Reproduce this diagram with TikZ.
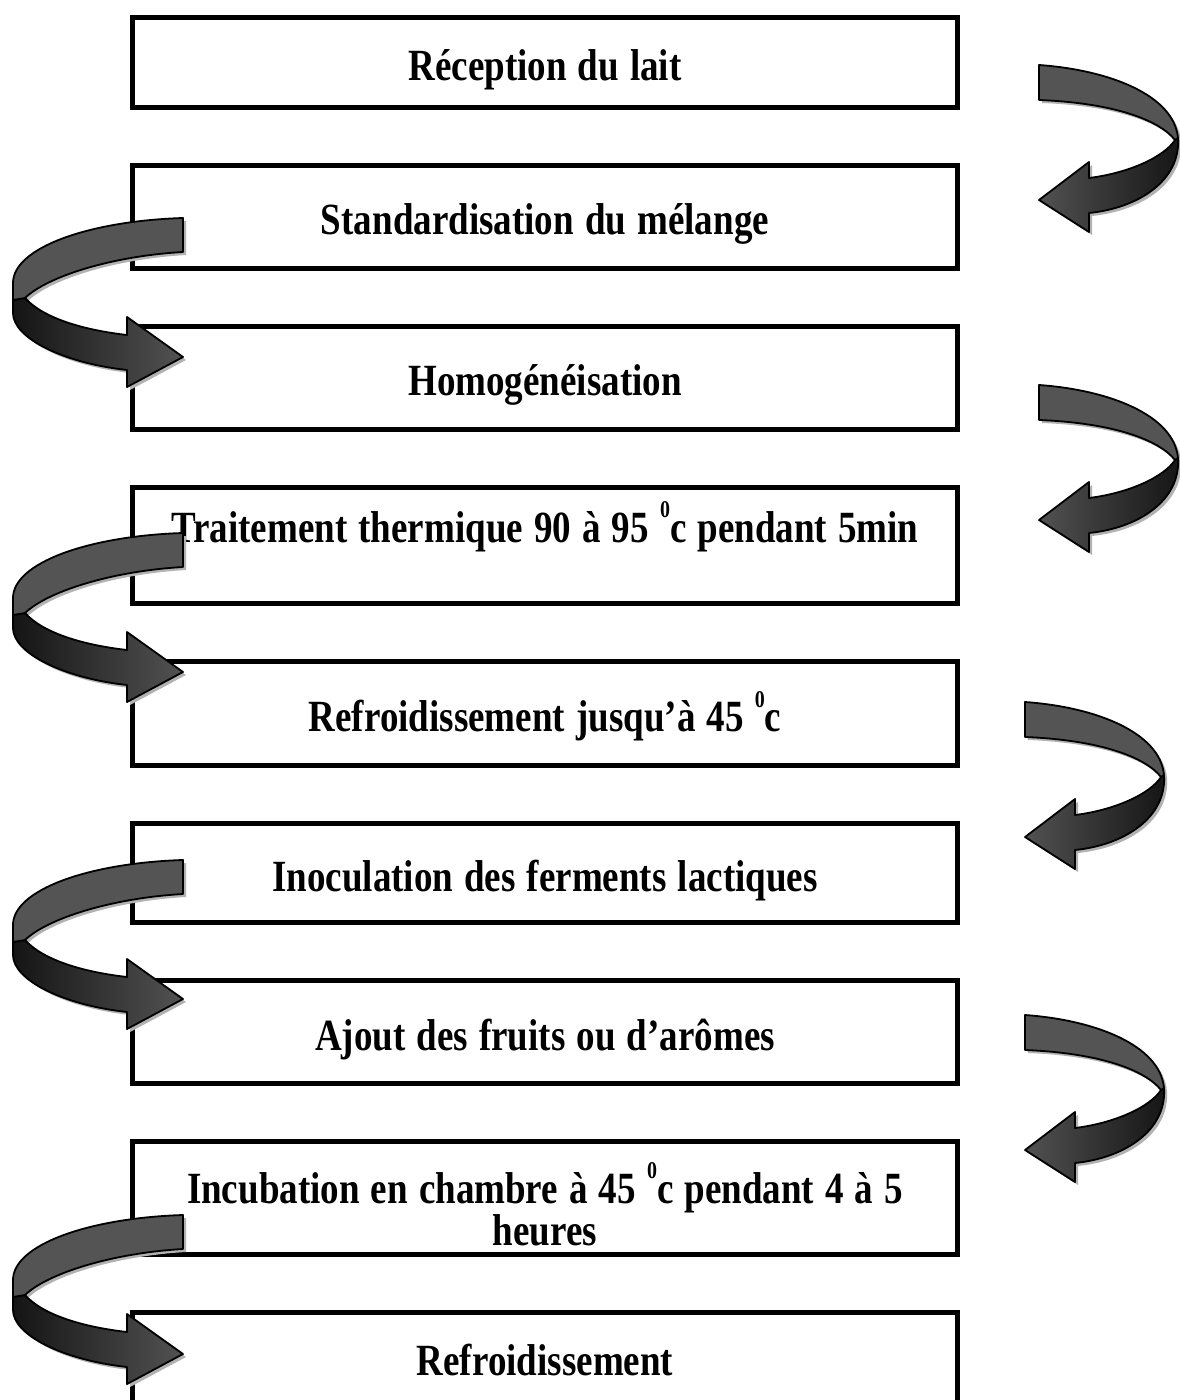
\documentclass[tikz,border=0pt]{standalone}
\usepackage{fontspec}
\setmainfont{Liberation Serif}[FakeStretch=0.83, WordSpace=1.2]
\usepackage{tikz}
\usetikzlibrary{positioning}
\newcommand{\degsup}{\raisebox{0.54em}{\fontsize{12}{12}\selectfont 0}}

\begin{document}
\begin{tikzpicture}[x=0.5pt, y=-0.5pt, node distance=26.5pt,
    box/.style={rectangle, draw=black, line width=2.5pt, fill=white, minimum width=412.5pt, text width=405pt, align=flush center, inner sep=2pt, text height=22pt, text depth=4pt, font=\bfseries\fontsize{22.3}{19}\selectfont},
    band/.style={draw=black, line width=0.9pt, line join=round},
    shadow/.style={fill=black!30, draw=none},
    rcurl/.pic={
        \fill[shadow, shift={(3,3)}] (0,0) .. controls (70,5) and (135,30) .. (139,73) .. controls (142,115) and (100,143) .. (50,148) -- (50,167) -- (0,135) -- (50,97) -- (50,113) .. controls (90,108) and (125,92) .. (136,75) .. controls (120,55) and (75,38) .. (0,35) -- cycle;
        \draw[band, left color=black!68, right color=black!92] (139,73) .. controls (142,115) and (100,143) .. (50,148) -- (50,167) -- (0,135) -- (50,97) -- (50,113) .. controls (90,108) and (125,92) .. (136,75) -- cycle;
        \draw[band, fill=black!67] (0,0) .. controls (70,5) and (135,30) .. (139,73) -- (136,75) .. controls (120,55) and (75,38) .. (0,35) -- cycle;
    },
    lcurl/.pic={
        \fill[shadow, shift={(3,3)}] (0,0) .. controls (-95,3) and (-170,30) .. (-170,65) -- (-170,95) .. controls (-170,120) and (-120,145) .. (-56,152) -- (-56,169) -- (0,139) -- (-56,99) -- (-56,117) .. controls (-100,112) and (-140,100) .. (-158,80) .. controls (-135,58) and (-70,38) .. (0,34) -- cycle;
        \draw[band, left color=black!92, right color=black!68] (-170,82) -- (-170,95) .. controls (-170,120) and (-120,145) .. (-56,152) -- (-56,169) -- (0,139) -- (-56,99) -- (-56,117) .. controls (-100,112) and (-140,100) .. (-158,80) -- cycle;
        \draw[band, fill=black!67] (0,0) .. controls (-95,3) and (-170,30) .. (-170,65) -- (-170,82) -- (-158,80) .. controls (-135,58) and (-70,38) .. (0,34) -- cycle;
    }]

    \useasboundingbox (0,0) rectangle (1179,1400);

    %Boxes
    \node[box, minimum height=45pt](reception) at (545,62.5){Réception du lait};
    \node[box, minimum height=51.5pt](standard)[below=of reception]{Standardisation du mélange};
    \node[box, minimum height=51.5pt](homog)[below=of standard]{Homogénéisation};
    \node[box, minimum height=58pt, text depth=25.5pt](traitement)[below=of homog]{Traitement thermique 90 à 95 \degsup c pendant 5min};
    \node[box, minimum height=52pt](refroid)[below=of traitement]{Refroidissement jusqu’à 45 \degsup c};
    \node[box, minimum height=49.5pt](inoc)[below=of refroid]{Inoculation des ferments lactiques};
    \node[box, minimum height=51.5pt](ajout)[below=of inoc]{Ajout des fruits ou d’arômes};
    \node[box, minimum height=56.5pt, text height=24pt, text depth=19pt](incub)[below=of ajout]{Incubation en chambre à 45 \degsup c pendant 4 à 5\\heures};
    \node[box, minimum height=45pt](refroidfin)[below=of incub]{Refroidissement};

    %Arrows
    \pic at (1039,65) {rcurl};
    \pic at (1039,385) {rcurl};
    \pic at (1025,702) {rcurl};
    \pic at (1025,1015) {rcurl};
    \pic at (183,218) {lcurl};
    \pic at (183,533) {lcurl};
    \pic at (183,860) {lcurl};
    \pic at (183,1215) {lcurl};

\end{tikzpicture}
\end{document}
